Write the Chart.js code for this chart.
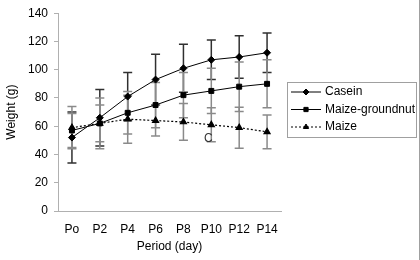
<!DOCTYPE html>
<html>
<head>
<meta charset="utf-8">
<script src="https://cdn.jsdelivr.net/npm/chart.js@4.4.1/dist/chart.umd.min.js"></script>
<style>
  html, body { margin: 0; padding: 0; background: #fff; }
</style>
</head>
<body>
<canvas id="myChart" width="420" height="260"></canvas>
<script>
// data
var periods = ['Po', 'P2', 'P4', 'P6', 'P8', 'P10', 'P12', 'P14'];
var casein = [52, 66, 81, 93, 101, 107, 109, 112];
var caseinErr = [18, 20, 17, 18, 17, 14, 15, 14];
var maizeGroundnut = [57, 62, 69.5, 75, 82, 85, 88, 90];
var maizeGroundnutErr = [12, 13, 15, 16, 16, 16, 17.5, 17];
var maize = [59, 62, 65, 64, 63, 61, 59, 56];
var maizeErr = [15, 18, 17, 11, 13, 12, 14.5, 12];
var yTicks = [0, 20, 40, 60, 80, 100, 120, 140];

var font = "'Liberation Sans', Arial, sans-serif";
Chart.defaults.font.family = font;
Chart.defaults.font.size = 12;
Chart.defaults.color = '#000';

// error bars drawn behind the lines
var errorBars = {
    id: 'errorBars',
    beforeDatasetsDraw: function(chart) {
        var ctx = chart.ctx;
        var xs = chart.scales.x, ys = chart.scales.y;
        chart.data.datasets.forEach(function(ds) {
            ctx.save();
            ctx.strokeStyle = ds.errColor;
            ctx.lineWidth = 1.5;
            ds.data.forEach(function(v, i) {
                var e = ds.err[i];
                var x = xs.getPixelForValue(i);
                var top = ys.getPixelForValue(v + e);
                var bot = ys.getPixelForValue(v - e);
                ctx.beginPath();
                ctx.moveTo(x, top); ctx.lineTo(x, bot);
                ctx.moveTo(x - 4.5, top); ctx.lineTo(x + 4.5, top);
                ctx.moveTo(x - 4.5, bot); ctx.lineTo(x + 4.5, bot);
                ctx.stroke();
            });
            ctx.restore();
        });
    }
};

// boxed legend on the right, the stray "C" and the frame line
var extras = {
    id: 'extras',
    afterDraw: function(chart) {
        var ctx = chart.ctx;
        ctx.save();
        ctx.strokeStyle = '#a0a0a0';
        ctx.lineWidth = 1;
        ctx.strokeRect(287.5, 82.5, 129, 55);
        ctx.beginPath();
        ctx.moveTo(419.5, 0); ctx.lineTo(419.5, 260);
        ctx.stroke();

        ctx.font = '12px ' + font;
        ctx.fillStyle = '#000';
        ctx.textBaseline = 'middle';
        chart.data.datasets.forEach(function(ds, i) {
            var y = 92 + i * 17.5;
            ctx.strokeStyle = '#000';
            ctx.lineWidth = 1;
            ctx.setLineDash(ds.borderDash || []);
            ctx.beginPath();
            ctx.moveTo(291, y); ctx.lineTo(321, y);
            ctx.stroke();
            ctx.setLineDash([]);
            Chart.helpers.drawPoint(ctx, {pointStyle: ds.pointStyle, radius: 3, borderWidth: 1}, 306, y);
            ctx.fillText(ds.label, 325, y);
        });

        ctx.fillStyle = '#333';
        ctx.fillText('C', 204, 139);
        ctx.restore();
    }
};

var myChart = document.getElementById('myChart').getContext('2d');
new Chart(myChart, {
    type: 'line',
    data: {
        labels: periods,
        datasets: [
            {
                label: 'Casein',
                data: casein,
                err: caseinErr,
                errColor: '#303030',
                borderColor: '#000',
                backgroundColor: '#000',
                borderWidth: 1,
                pointStyle: 'rectRot',
                pointRadius: 3.5,
                tension: 0
            },
            {
                label: 'Maize-groundnut',
                data: maizeGroundnut,
                err: maizeGroundnutErr,
                errColor: '#8a8a8a',
                borderColor: '#000',
                backgroundColor: '#000',
                borderWidth: 1,
                pointStyle: 'rect',
                pointRadius: 3.5,
                tension: 0
            },
            {
                label: 'Maize',
                data: maize,
                err: maizeErr,
                errColor: '#8a8a8a',
                borderColor: '#000',
                backgroundColor: '#000',
                borderWidth: 1.2,
                borderDash: [2, 2],
                pointStyle: 'triangle',
                pointRadius: 3.5,
                tension: 0
            }
        ]
    },
    options: {
        responsive: false,
        animation: false,
        layout: { padding: { top: 11, right: 139, left: 0, bottom: 0 } },
        plugins: {
            legend: { display: false },
            tooltip: { enabled: false }
        },
        scales: {
            x: {
                offset: true,
                grid: { display: false, drawTicks: false },
                border: { color: '#b0b0b0' },
                ticks: { padding: 11, maxRotation: 0, autoSkip: false },
                title: { display: true, text: 'Period (day)', padding: { top: 0, bottom: 6.5 } },
                afterFit: function(scale) { scale.height = 49; }
            },
            y: {
                min: 0,
                max: 140,
                afterBuildTicks: function(scale) {
                    scale.ticks = yTicks.map(function(v) { return { value: v }; });
                },
                grid: { drawOnChartArea: false, tickLength: 4, color: '#b0b0b0' },
                border: { color: '#b0b0b0' },
                ticks: { padding: 6 },
                title: { display: true, text: 'Weight (g)', padding: { top: 4.5, bottom: 0 } },
                afterFit: function(scale) { scale.width = 58; }
            }
        }
    },
    plugins: [errorBars, extras]
});
</script>
</body>
</html>
